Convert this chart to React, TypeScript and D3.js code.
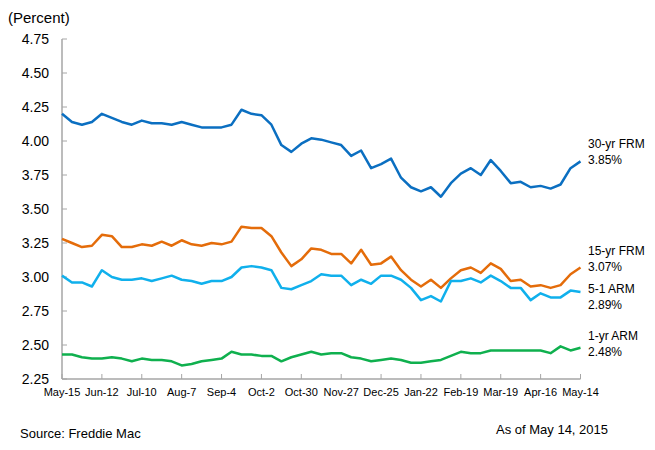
import React from 'react';
import * as d3 from 'd3';

// weekly Freddie Mac PMMS rates, May 15 2014 .. May 14 2015
const frm30 = [
  4.20, 4.14, 4.12, 4.14, 4.20, 4.17, 4.14, 4.12, 4.15, 4.13, 4.13, 4.12, 4.14, 4.12,
  4.10, 4.10, 4.10, 4.12, 4.23, 4.20, 4.19, 4.12, 3.97, 3.92, 3.98, 4.02, 4.01, 3.99,
  3.97, 3.89, 3.93, 3.80, 3.83, 3.87, 3.73, 3.66, 3.63, 3.66, 3.59, 3.69, 3.76, 3.80,
  3.75, 3.86, 3.78, 3.69, 3.70, 3.66, 3.67, 3.65, 3.68, 3.80, 3.85,
];
const frm15 = [
  3.28, 3.25, 3.22, 3.23, 3.31, 3.30, 3.22, 3.22, 3.24, 3.23, 3.26, 3.23, 3.27, 3.24,
  3.23, 3.25, 3.24, 3.26, 3.37, 3.36, 3.36, 3.30, 3.18, 3.08, 3.13, 3.21, 3.20, 3.17,
  3.17, 3.10, 3.20, 3.09, 3.10, 3.15, 3.05, 2.98, 2.93, 2.98, 2.92, 2.99, 3.05, 3.07,
  3.03, 3.10, 3.06, 2.97, 2.98, 2.93, 2.94, 2.92, 2.94, 3.02, 3.07,
];
const arm51 = [
  3.01, 2.96, 2.96, 2.93, 3.05, 3.00, 2.98, 2.98, 2.99, 2.97, 2.99, 3.01, 2.98, 2.97,
  2.95, 2.97, 2.97, 3.00, 3.07, 3.08, 3.07, 3.05, 2.92, 2.91, 2.94, 2.97, 3.02, 3.01,
  3.01, 2.94, 2.98, 2.95, 3.01, 3.01, 2.98, 2.92, 2.83, 2.86, 2.82, 2.97, 2.97, 2.99,
  2.96, 3.01, 2.97, 2.92, 2.92, 2.83, 2.88, 2.85, 2.85, 2.90, 2.89,
];
const arm1 = [
  2.43, 2.43, 2.41, 2.40, 2.40, 2.41, 2.40, 2.38, 2.40, 2.39, 2.39, 2.38, 2.35, 2.36,
  2.38, 2.39, 2.40, 2.45, 2.43, 2.43, 2.42, 2.42, 2.38, 2.41, 2.43, 2.45, 2.43, 2.44,
  2.44, 2.41, 2.40, 2.38, 2.39, 2.40, 2.39, 2.37, 2.37, 2.38, 2.39, 2.42, 2.45, 2.44,
  2.44, 2.46, 2.46, 2.46, 2.46, 2.46, 2.46, 2.44, 2.49, 2.46, 2.48,
];

const xTickLabels = [
  'May-15', 'Jun-12', 'Jul-10', 'Aug-7', 'Sep-4', 'Oct-2', 'Oct-30',
  'Nov-27', 'Dec-25', 'Jan-22', 'Feb-19', 'Mar-19', 'Apr-16', 'May-14',
];
const yTicks = [2.25, 2.5, 2.75, 3.0, 3.25, 3.5, 3.75, 4.0, 4.25, 4.5, 4.75];

const series = [
  { name: '30-yr FRM', values: frm30, color: '#0b6fc1', nameY: 148, valueY: 164 },
  { name: '15-yr FRM', values: frm15, color: '#e46c0a', nameY: 255, valueY: 271 },
  { name: '5-1 ARM', values: arm51, color: '#10b0ec', nameY: 293, valueY: 309 },
  { name: '1-yr ARM', values: arm1, color: '#0fb04e', nameY: 340, valueY: 356 },
];

const W = 655;
const H = 450;
const FONT = '"Liberation Sans", Arial, Helvetica, sans-serif';
const AXIS = '#a6a6a6';

export default function App() {
  const x = d3.scaleLinear().domain([0, frm30.length - 1]).range([62, 580.5]);
  const y = d3.scaleLinear().domain([2.25, 4.75]).range([379, 39]);

  const line = d3
    .line<number>()
    .x((_, i) => x(i))
    .y((d) => y(d));

  const [x0, x1] = x.range();
  const [y0, y1] = y.range();

  return (
    <svg
      width={W}
      height={H}
      style={{ position: 'absolute', left: 0, top: 0, background: '#fff' }}
      fontFamily={FONT}
    >
      <text x={8} y={23} fontSize={15} fill="#000">(Percent)</text>

      {/* y axis */}
      <line x1={x0} x2={x0} y1={y0} y2={y1} stroke={AXIS} strokeWidth={1.5} />
      {yTicks.map((t) => (
        <g key={t}>
          <line x1={x0} x2={x0 + 5} y1={y(t)} y2={y(t)} stroke={AXIS} strokeWidth={1} />
          <text x={49} y={y(t)} dy="0.36em" textAnchor="end" fontSize={14} fill="#000">
            {t.toFixed(2)}
          </text>
        </g>
      ))}

      {/* x axis */}
      <line x1={x0} x2={x1} y1={y0} y2={y0} stroke={AXIS} strokeWidth={1.5} />
      {xTickLabels.map((lab, k) => {
        const xi = x(k * 4);
        return (
          <g key={lab}>
            <line x1={xi} x2={xi} y1={y0} y2={y0 - 5} stroke={AXIS} strokeWidth={1} />
            <text x={xi} y={396} textAnchor="middle" fontSize={11} fill="#000">
              {lab}
            </text>
          </g>
        );
      })}

      {series.map((s) => (
        <g key={s.name}>
          <path
            d={line(s.values) || ''}
            fill="none"
            stroke={s.color}
            strokeWidth={2.5}
            strokeLinejoin="round"
          />
          <text x={588} y={s.nameY} fontSize={12} fill="#000">{s.name}</text>
          <text x={588} y={s.valueY} fontSize={12} fill="#000">
            {s.values[s.values.length - 1].toFixed(2)}%
          </text>
        </g>
      ))}

      <text x={20} y={438} fontSize={13} fill="#000">Source: Freddie Mac</text>
      <text x={496} y={434} fontSize={13} fill="#000">As of May 14, 2015</text>
    </svg>
  );
}
